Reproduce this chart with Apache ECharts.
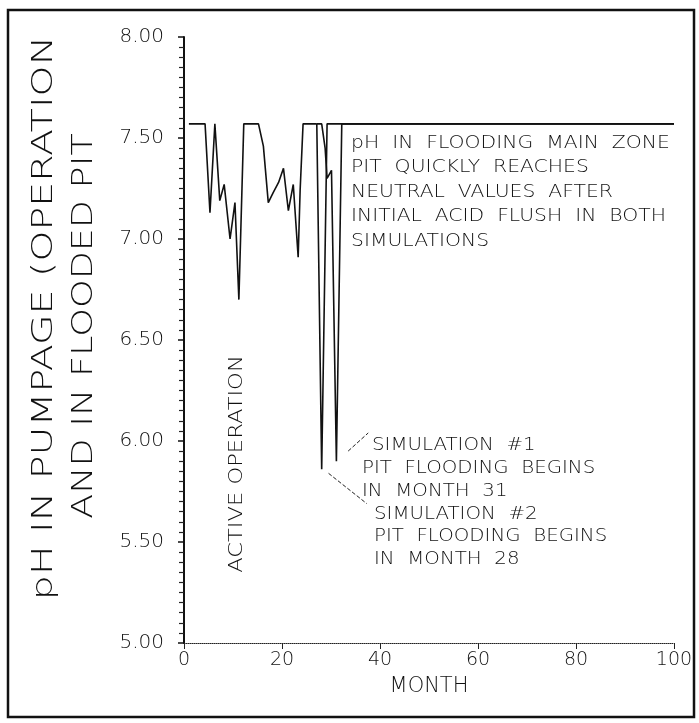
<!DOCTYPE html>
<html>
<head>
<meta charset="utf-8">
<script src="https://cdn.jsdelivr.net/npm/echarts@6/dist/echarts.min.js"></script>
<style>html,body{margin:0;padding:0;background:#fff}#c{width:699px;height:723px}</style>
</head>
<body>
<div id="c"></div>
<script>
// ---- data ----
const activeMonth = [1, 4.3, 5.3, 6.3, 7.3, 8.2, 9.4, 10.4, 11.2, 12.2, 15.2, 16.2, 17.2, 18.2, 19.3, 20.3, 21.3, 22.3, 23.3, 23.7, 24.3, 27.1];
const activePH    = [7.57, 7.57, 7.13, 7.57, 7.19, 7.27, 7.00, 7.18, 6.70, 7.57, 7.57, 7.46, 7.18, 7.23, 7.28, 7.35, 7.14, 7.27, 6.91, 7.24, 7.57, 7.57];
const sim2Month = [27.1, 28.1, 29.2, 100];
const sim2PH    = [7.57, 5.86, 7.57, 7.57];
const sim1Month = [27.1, 28.1, 28.8, 29.2, 30.1, 31.1, 32.2, 100];
const sim1PH    = [7.57, 7.57, 7.45, 7.30, 7.34, 5.90, 7.57, 7.57];
const xTicks = [0, 20, 40, 60, 80, 100];
const yTicks = [5.00, 5.50, 6.00, 6.50, 7.00, 7.50, 8.00];

const FONT = 'DejaVu Sans';
const TXT = '#111';
const zip = (a, b) => a.map((v, i) => [v, b[i]]);
const lineStyle = {color: '#111', width: 1.6};

const chart = echarts.init(document.getElementById('c'), null, {renderer: 'canvas'});
chart.setOption({
  animation: false,
  backgroundColor: '#fff',
  grid: {left: 184, right: 25, top: 37, bottom: 80},
  xAxis: {
    type: 'value', min: xTicks[0], max: xTicks[xTicks.length - 1], interval: 20,
    name: 'MONTH', nameLocation: 'middle', nameGap: 33,
    nameTextStyle: {fontFamily: FONT, fontSize: 21, color: TXT, fontWeight: 'lighter'},
    axisLine: {lineStyle: {color: '#222', width: 1, type: 'dotted'}},
    axisTick: {show: true, length: 6, lineStyle: {color: '#222', width: 1}},
    axisLabel: {fontFamily: FONT, fontSize: 19, color: TXT, margin: 8, fontWeight: 'lighter'},
    splitLine: {show: false}
  },
  yAxis: {
    type: 'value', min: yTicks[0], max: yTicks[yTicks.length - 1], interval: 0.5,
    axisLine: {show: true, lineStyle: {color: '#111', width: 2}},
    axisTick: {show: true, length: 6, lineStyle: {color: '#111', width: 1.5}},
    minorTick: {show: true, splitNumber: 10, length: 5, lineStyle: {color: '#222', width: 1.2}},
    axisLabel: {fontFamily: FONT, fontSize: 20, color: TXT, margin: 20, fontWeight: 'lighter', formatter: v => v.toFixed(2)},
    splitLine: {show: false}
  },
  series: [
    {type: 'line', data: zip(activeMonth, activePH), symbol: 'none', lineStyle},
    {type: 'line', data: zip(sim2Month, sim2PH), symbol: 'none', lineStyle},
    {type: 'line', data: zip(sim1Month, sim1PH), symbol: 'none', lineStyle}
  ]
});

const P = (m, v) => chart.convertToPixel({gridIndex: 0}, [m, v]);
const a2a = P(29.5, 5.84), a2b = P(37.3, 5.69);
const a1a = P(33.5, 5.95), a1b = P(37.6, 6.04);

function txt(text, x, y, size, lh, sx) {
  return {
    type: 'text', x, y, scaleX: sx || 1,
    style: {text, fontFamily: FONT, fontWeight: 'lighter', fontSize: size, fill: TXT, lineHeight: lh, verticalAlign: 'top'}
  };
}
function vtxt(text, x, y, size, sx) {
  return {
    type: 'text', x, y, rotation: Math.PI / 2, scaleX: sx,
    style: {text, fontFamily: FONT, fontWeight: 'lighter', fontSize: size, fill: TXT, align: 'center', verticalAlign: 'middle'}
  };
}

chart.setOption({
  graphic: [
    {type: 'rect', shape: {x: 8, y: 10, width: 686, height: 707}, style: {fill: 'none', stroke: '#111', lineWidth: 2.5}, silent: true},
    vtxt('pH IN PUMPAGE (OPERATION', 44, 318, 29, 1.36),
    vtxt('AND IN FLOODED PIT', 84, 326, 29, 1.26),
    vtxt('ACTIVE OPERATION', 237, 464, 20, 1.13),
    txt('pH  IN  FLOODING  MAIN  ZONE\nPIT  QUICKLY  REACHES\nNEUTRAL  VALUES  AFTER\nINITIAL  ACID  FLUSH  IN  BOTH\nSIMULATIONS', 351, 131, 18, 24.5, 1.13),
    txt('SIMULATION  #1', 372, 434, 18, 23, 1.1),
    txt('PIT  FLOODING  BEGINS\nIN  MONTH  31', 362, 457, 18, 23, 1.1),
    txt('SIMULATION  #2\nPIT  FLOODING  BEGINS\nIN  MONTH  28', 374, 503, 18, 22.5, 1.1),
    {type: 'line', shape: {x1: a2a[0], y1: a2a[1], x2: a2b[0], y2: a2b[1]}, style: {stroke: '#222', lineWidth: 1, lineDash: [4, 2]}},
    {type: 'line', shape: {x1: a1a[0], y1: a1a[1], x2: a1b[0], y2: a1b[1]}, style: {stroke: '#222', lineWidth: 1, lineDash: [4, 2]}}
  ]
});
</script>
</body>
</html>
